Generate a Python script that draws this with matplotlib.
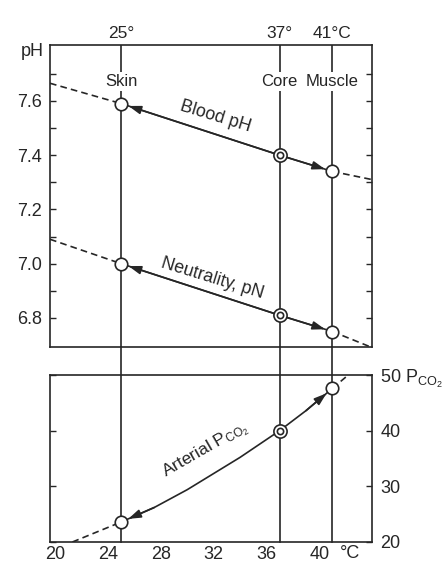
import matplotlib
matplotlib.use('Agg')
import matplotlib.pyplot as plt

plt.rcParams['font.family'] = ['Liberation Sans', 'DejaVu Sans']

# sites and their temperatures
temps = [25, 37, 41]
site_names = ['Skin', 'Core', 'Muscle']
top_labels = ['25°', '37°', '41°C']

# pH values at skin, core, muscle
blood_ph = [7.59, 7.40, 7.34]
neutral_ph = [7.00, 6.81, 6.75]
# dashed extrapolations (left part, right part)
blood_ext_t = [[19.6, 25], [41, 44.0]]
blood_ext_ph = [[7.665, 7.59], [7.34, 7.31]]
neutral_ext_t = [[19.6, 25], [41, 43.8]]
neutral_ext_ph = [[7.09, 7.00], [6.75, 6.695]]

# arterial PCO2 curve
pco2_t = [25, 27.5, 30, 32, 34, 37, 39, 41]
pco2 = [23.6, 26.2, 29.4, 32.3, 35.2, 40.0, 43.6, 47.6]
pco2_ext_t = [[21.3, 25], [41, 42.2]]
pco2_ext = [[20.0, 23.6], [47.6, 50.0]]

ph_major = [6.8, 7.0, 7.2, 7.4, 7.6]
ph_minor = [6.9, 7.1, 7.3, 7.5, 7.7]
temp_ticks = [20, 24, 28, 32, 36, 40]
pco2_ticks = [20, 30, 40, 50]
pco2_ticklabels = ['20', '30', '40', '50 P$\\mathregular{_{CO_2}}$']

ink = '#262626'
lw = 1.2
dash = (0, (4, 2.5))
arrow = dict(arrowstyle='-|>,head_length=0.75,head_width=0.25', color=ink,
             lw=lw, shrinkA=0, shrinkB=5.5, mutation_scale=10)

fig = plt.figure(figsize=(4.42, 5.63), dpi=100)
W, H = 442, 563
ax1 = fig.add_axes([50 / W, 1 - 347 / H, 322 / W, 302 / H])
ax2 = fig.add_axes([50 / W, 1 - 542 / H, 322 / W, 167 / H])

for ax in (ax1, ax2):
    ax.set_xlim(19.6, 44.0)
    for s in ax.spines.values():
        s.set_color(ink)
        s.set_linewidth(lw)

# --- top panel: pH ---
ax1.set_ylim(6.693, 7.806)
for t in temps:
    ax1.axvline(t, color=ink, lw=lw, zorder=1)
for t, name in zip(temps, site_names):
    ax1.text(t, 7.67, name, ha='center', va='center', fontsize=12, color=ink,
             zorder=3, bbox=dict(facecolor='white', edgecolor='none', pad=1.5))

for ts, ys in zip(blood_ext_t, blood_ext_ph):
    ax1.plot(ts, ys, color=ink, lw=lw, linestyle=dash, zorder=2)
for ts, ys in zip(neutral_ext_t, neutral_ext_ph):
    ax1.plot(ts, ys, color=ink, lw=lw, linestyle=dash, zorder=2)

for vals in (blood_ph, neutral_ph):
    ax1.plot(temps, vals, color=ink, lw=lw, zorder=2)
    ax1.annotate('', xy=(temps[0], vals[0]), xytext=(temps[1], vals[1]), arrowprops=arrow, zorder=3)
    ax1.annotate('', xy=(temps[2], vals[2]), xytext=(temps[1], vals[1]), arrowprops=arrow, zorder=3)
    ax1.plot([temps[0], temps[2]], [vals[0], vals[2]], 'o', ms=9, mfc='white', mec=ink, mew=1.2, zorder=4)
    ax1.plot(temps[1], vals[1], 'o', ms=9.5, mfc='white', mec=ink, mew=1.2, zorder=4)
    ax1.plot(temps[1], vals[1], 'o', ms=4.5, mfc='white', mec=ink, mew=1.2, zorder=5)

ax1.text(32.1, 7.541, 'Blood pH', rotation=-17, rotation_mode='anchor',
         ha='center', va='center', fontsize=12.8, color=ink)
ax1.text(31.9, 6.945, 'Neutrality, pN', rotation=-17, rotation_mode='anchor',
         ha='center', va='center', fontsize=12.8, color=ink)

ax1.set_yticks(ph_major)
ax1.set_yticklabels([f'{v:.1f}' for v in ph_major])
ax1.set_yticks(ph_minor, minor=True)
ax1.tick_params(axis='y', which='both', direction='in', left=True, right=True,
                length=4, width=1, colors=ink, labelsize=13, pad=6)
ax1.xaxis.tick_top()
ax1.set_xticks(temps)
ax1.set_xticklabels(top_labels)
ax1.tick_params(axis='x', length=0, labelsize=12.5, colors=ink, pad=3)
ax1.text(-0.055, 0.98, 'pH', transform=ax1.transAxes, ha='center', va='center',
         fontsize=13, color=ink)

# --- bottom panel: PCO2 ---
ax2.set_ylim(20, 50)
for t in temps:
    ax2.axvline(t, ymin=0, ymax=1 + 28 / 167, color=ink, lw=lw, clip_on=False, zorder=1)

for ts, ys in zip(pco2_ext_t, pco2_ext):
    ax2.plot(ts, ys, color=ink, lw=lw, linestyle=dash, zorder=2)
ax2.plot(pco2_t, pco2, color=ink, lw=lw, zorder=2)
ax2.annotate('', xy=(pco2_t[0], pco2[0]), xytext=(pco2_t[1], pco2[1]), arrowprops=arrow, zorder=3)
ax2.annotate('', xy=(pco2_t[-1], pco2[-1]), xytext=(pco2_t[-2], pco2[-2]), arrowprops=arrow, zorder=3)
ax2.plot([pco2_t[0], pco2_t[-1]], [pco2[0], pco2[-1]], 'o', ms=9, mfc='white', mec=ink, mew=1.2, zorder=4)
core_pco2 = pco2[pco2_t.index(37)]
ax2.plot(37, core_pco2, 'o', ms=9.5, mfc='white', mec=ink, mew=1.2, zorder=4)
ax2.plot(37, core_pco2, 'o', ms=4.5, mfc='white', mec=ink, mew=1.2, zorder=5)

ax2.text(31.4, 36.6, 'Arterial P$\\mathregular{_{CO_2}}$', rotation=30, rotation_mode='anchor',
         ha='center', va='center', fontsize=12.5, color=ink)

ax2.set_yticks(pco2_ticks)
ax2.set_yticklabels(pco2_ticklabels)
ax2.yaxis.tick_right()
ax2.tick_params(axis='y', direction='in', left=True, right=True, labelleft=False,
                labelright=True, length=4, width=1, colors=ink, labelsize=13, pad=6)
ax2.set_xticks(temp_ticks)
ax2.set_xticklabels([str(v) for v in temp_ticks])
ax2.tick_params(axis='x', length=0, labelsize=13, colors=ink, pad=3)
ax2.text(42.35, -0.066, '°C', transform=ax2.get_xaxis_transform(), ha='center',
         va='center', fontsize=13, color=ink)

fig.savefig('out.png', dpi=100)
